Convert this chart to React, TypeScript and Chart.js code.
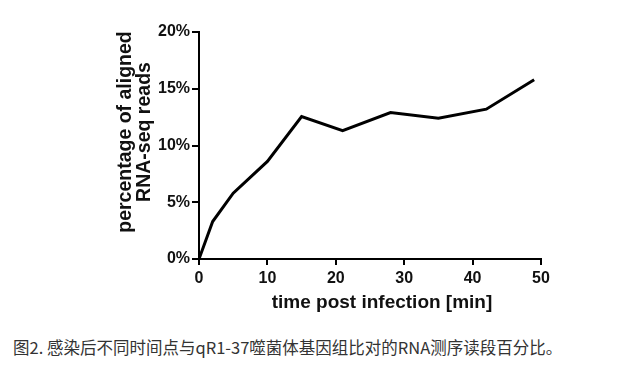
import React, { useEffect, useRef } from "react";
import { Chart, registerables } from "chart.js";

Chart.register(...registerables);

const timePoints = [0, 2, 5, 10, 15, 21, 28, 35, 42, 49];
const alignedPercent = [0, 3.3, 5.8, 8.6, 12.55, 11.3, 12.9, 12.4, 13.2, 15.8];
const xTicks = [0, 10, 20, 30, 40, 50];
const yTicks = [0, 5, 10, 15, 20];
const xTitle = "time post infection [min]";
const yTitleLines = ["percentage of aligned", "RNA-seq reads"];
const caption = "图2. 感染后不同时间点与qR1-37噬菌体基因组比对的RNA测序读段百分比。";

const FONT = '"Liberation Sans", Arial, sans-serif';

export default function App() {
  const ref = useRef<HTMLCanvasElement | null>(null);
  useEffect(() => {
    if (!ref.current) return;
    const titlePlugin = {
      id: "customTitles",
      afterDraw(chart: any) {
        const ctx = chart.ctx;
        const ca = chart.chartArea;
        ctx.save();
        ctx.fillStyle = "#111";
        ctx.font = `bold 19px ${FONT}`;
        ctx.textAlign = "center";
        ctx.textBaseline = "middle";
        ctx.fillText(xTitle, (ca.left + ca.right) / 2 + 12, ca.bottom + 44);
        ctx.translate(ca.left - 64, ca.top + 100);
        ctx.rotate(-Math.PI / 2);
        ctx.font = `bold 19.5px ${FONT}`;
        ctx.fillText(yTitleLines[0], 0, -9);
        ctx.fillText(yTitleLines[1], 0, 10);
        ctx.restore();
      },
    };
    const chart = new Chart(ref.current, {
      type: "line",
      data: {
        datasets: [
          {
            data: timePoints.map((t, i) => ({ x: t, y: alignedPercent[i] })),
            borderColor: "#000",
            borderWidth: 3,
            pointRadius: 0,
            tension: 0,
            fill: false,
          },
        ],
      },
      options: {
        responsive: false,
        animation: false,
        devicePixelRatio: 1,
        layout: { padding: { left: 0, top: 32, right: 77, bottom: 21 } },
        plugins: { legend: { display: false }, tooltip: { enabled: false } },
        scales: {
          x: {
            type: "linear",
            min: 0,
            max: 50,
            afterBuildTicks: (s: any) => {
              s.ticks = xTicks.map((v) => ({ value: v }));
            },
            afterFit: (s: any) => {
              s.height = 40;
            },
            ticks: {
              color: "#111",
              font: { family: FONT, size: 16, weight: "bold" },
              padding: 4,
              maxRotation: 0,
            },
            grid: {
              drawOnChartArea: false,
              color: "#000",
              lineWidth: 2,
              tickLength: 6,
            },
            border: { color: "#000", width: 2 },
          },
          y: {
            type: "linear",
            min: 0,
            max: 20,
            afterBuildTicks: (s: any) => {
              s.ticks = yTicks.map((v) => ({ value: v }));
            },
            afterFit: (s: any) => {
              s.width = 199;
            },
            ticks: {
              color: "#111",
              font: { family: FONT, size: 16, weight: "bold" },
              padding: 2,
              callback: (v: any) => `${v}%`,
            },
            grid: {
              drawOnChartArea: false,
              color: "#000",
              lineWidth: 2,
              tickLength: 7,
            },
            border: { color: "#000", width: 2 },
          },
        },
      },
      plugins: [titlePlugin],
    });
    return () => chart.destroy();
  }, []);
  return (
    <div style={{ position: "absolute", left: 0, top: 0, width: 618, height: 379, background: "#fff" }}>
      <canvas ref={ref} width={618} height={320} style={{ position: "absolute", left: 0, top: 0, width: 618, height: 320 }} />
      <div
        style={{
          position: "absolute",
          left: 13,
          top: 337,
          fontFamily: '"Noto Sans CJK SC", sans-serif',
          fontSize: 16.5,
          lineHeight: "21px",
          color: "#333",
          whiteSpace: "nowrap",
        }}
      >
        {caption}
      </div>
    </div>
  );
}
